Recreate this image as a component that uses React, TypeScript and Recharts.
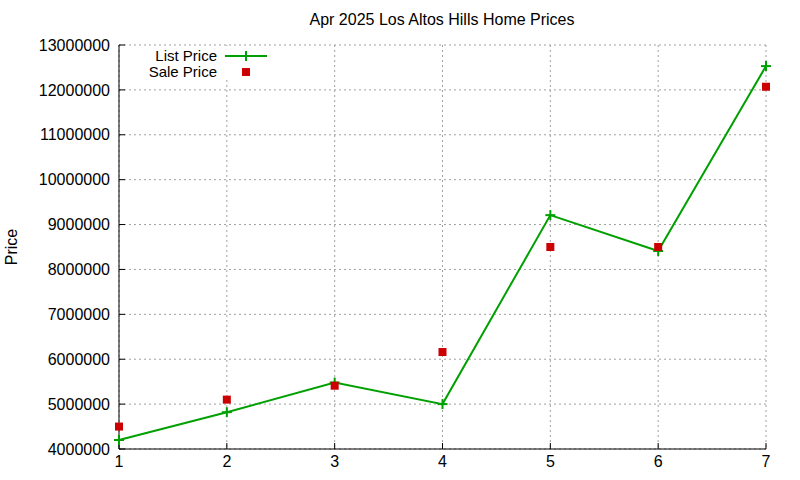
import React from 'react'
import { LineChart, Line, XAxis, YAxis, CartesianGrid, Legend } from 'recharts'

const FONT = '"Liberation Sans", Arial, sans-serif'

const months = [1, 2, 3, 4, 5, 6, 7]
const listPrice = [4200000, 4820000, 5480000, 5000000, 9210000, 8410000, 12530000]
const salePrice = [4500000, 5100000, 5410000, 6160000, 8500000, 8500000, 12070000]
const yTicks = [4000000, 5000000, 6000000, 7000000, 8000000, 9000000, 10000000, 11000000, 12000000, 13000000]
const xTicks = [1, 2, 3, 4, 5, 6, 7]

const GREEN = '#00a000'
const RED = '#cc0000'

const chartData = months.map((m, i) => ({ month: m, list: listPrice[i], sale: salePrice[i] }))

const PlusDot = (props: any) => {
  const { cx, cy } = props
  if (cx == null || cy == null) return null
  return (
    <g>
      <line x1={cx - 5} y1={cy} x2={cx + 5} y2={cy} stroke={GREEN} strokeWidth={2} />
      <line x1={cx} y1={cy - 5} x2={cx} y2={cy + 5} stroke={GREEN} strokeWidth={2} />
    </g>
  )
}

const SquareDot = (props: any) => {
  const { cx, cy } = props
  if (cx == null || cy == null) return null
  return <rect x={cx - 4} y={cy - 4} width={8} height={8} fill={RED} />
}

// gnuplot-style key: text right-aligned, sample to the right
const KeyBox = () => (
  <svg width={140} height={34} style={{ display: 'block', background: '#fff' }}>
    <text x={81} y={15} textAnchor="end" fontFamily={FONT} fontSize={15} fill="#000">List Price</text>
    <line x1={89} y1={10} x2={131} y2={10} stroke={GREEN} strokeWidth={2} />
    <line x1={105} y1={10} x2={115} y2={10} stroke={GREEN} strokeWidth={2} />
    <line x1={110} y1={5} x2={110} y2={15} stroke={GREEN} strokeWidth={2} />
    <text x={81} y={31} textAnchor="end" fontFamily={FONT} fontSize={15} fill="#000">Sale Price</text>
    <rect x={106} y={22} width={8} height={8} fill={RED} />
  </svg>
)

export default function App() {
  const tickStyle = { fill: '#000', fontSize: 16, fontFamily: FONT }
  return (
    <div style={{ position: 'absolute', left: 0, top: 0, width: 800, height: 480, background: '#fff' }}>
      <div
        style={{
          position: 'absolute', left: 0, width: 884, top: 11, textAlign: 'center',
          fontFamily: FONT, fontSize: 16, color: '#000', lineHeight: '18px',
        }}
      >
        Apr 2025 Los Altos Hills Home Prices
      </div>
      <div
        style={{
          position: 'absolute', left: 12, top: 247, transform: 'translate(-50%, -50%) rotate(-90deg)',
          fontFamily: FONT, fontSize: 16, color: '#000', whiteSpace: 'nowrap',
        }}
      >
        Price
      </div>
      <LineChart width={800} height={480} data={chartData} margin={{ top: 45, right: 34, bottom: 0, left: 0 }}>
        <CartesianGrid stroke="#a0a0a0" strokeDasharray="2 3" />
        <XAxis
          dataKey="month"
          type="number"
          domain={[1, 7]}
          ticks={xTicks}
          height={31}
          tickSize={-6}
          tickMargin={13}
          tick={tickStyle}
          axisLine={{ stroke: '#000' }}
          tickLine={{ stroke: '#000' }}
        />
        <XAxis
          xAxisId="top"
          orientation="top"
          type="number"
          domain={[1, 7]}
          ticks={xTicks}
          height={0}
          tickSize={-6}
          tick={false}
          axisLine={{ stroke: '#000' }}
          tickLine={{ stroke: '#000' }}
        />
        <YAxis
          type="number"
          domain={[4000000, 13000000]}
          ticks={yTicks}
          width={119}
          tickSize={-6}
          tickMargin={15}
          tick={tickStyle}
          tickFormatter={(v) => String(v)}
          axisLine={{ stroke: '#000' }}
          tickLine={{ stroke: '#000' }}
        />
        <YAxis
          yAxisId="right"
          orientation="right"
          type="number"
          domain={[4000000, 13000000]}
          ticks={yTicks}
          width={0}
          tickSize={-6}
          tick={false}
          axisLine={{ stroke: '#000' }}
          tickLine={{ stroke: '#000' }}
        />
        <Legend
          layout="vertical"
          align="center"
          verticalAlign="middle"
          content={() => <KeyBox />}
          wrapperStyle={{ position: 'absolute', left: 136, top: 46, width: 140, height: 34 }}
        />
        <Line
          dataKey="list"
          name="List Price"
          stroke={GREEN}
          strokeWidth={2}
          dot={<PlusDot />}
          activeDot={false}
          isAnimationActive={false}
        />
        <Line
          dataKey="sale"
          name="Sale Price"
          stroke="none"
          dot={<SquareDot />}
          activeDot={false}
          isAnimationActive={false}
        />
      </LineChart>
    </div>
  )
}
